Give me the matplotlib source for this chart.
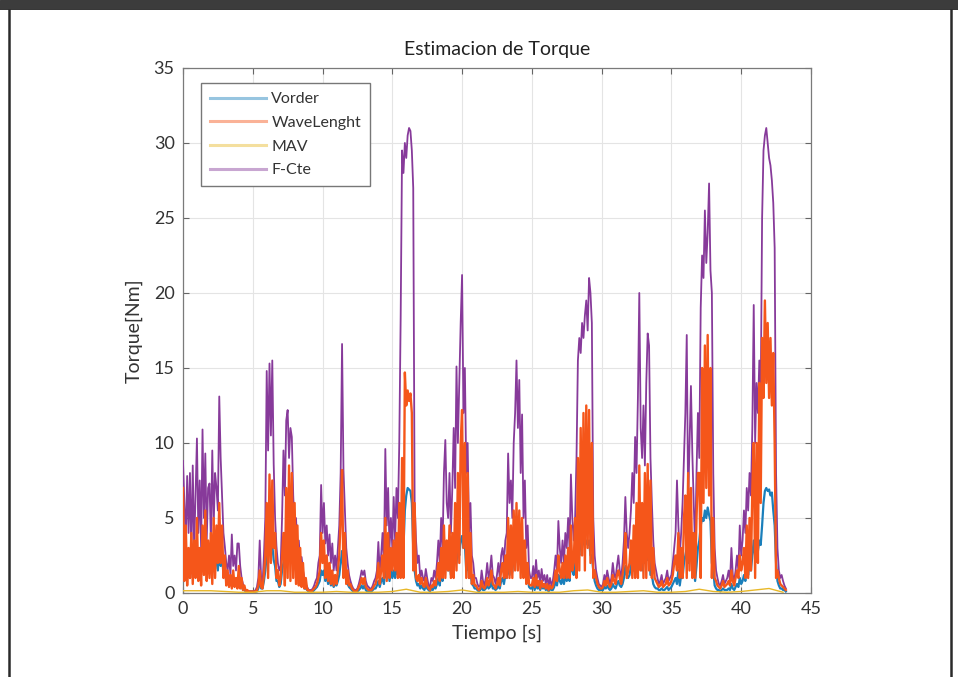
import numpy as np
import matplotlib
matplotlib.use("Agg")
import matplotlib.pyplot as plt
from matplotlib.lines import Line2D

# %% Data (samples every 0.1 s, one row per second)
dt = 0.1

f_cte = [
    8.8, 6.0, 3.5, 7.8, 4.0, 8.0, 2.5, 8.5, 3.0, 6.5,
    10.3, 4.0, 7.5, 3.0, 10.9, 5.0, 9.3, 3.5, 7.0, 7.3,
    3.5, 9.5, 4.5, 8.0, 7.0, 5.5, 13.1, 9.0, 6.4, 4.0,
    3.1, 2.0, 1.5, 2.5, 1.2, 3.9, 1.8, 2.5, 1.5, 3.3,
    3.3, 1.8, 1.0, 0.6, 0.3, 0.2, 0.1, 0.1, 0.1, 0.1,
    0.1, 0.1, 0.2, 0.4, 1.0, 3.5, 1.0, 0.6, 2.5, 5.0,
    14.8, 9.5, 15.3, 10.5, 15.5, 8.6, 5.0, 3.1, 2.0, 1.5,
    1.8, 5.0, 9.5, 6.5, 11.5, 12.2, 9.0, 11.0, 10.4, 6.5,
    4.2, 5.0, 3.0, 3.5, 2.0, 2.4, 1.5, 1.0, 0.6, 0.4,
    0.2, 0.2, 0.2, 0.3, 0.5, 0.8, 1.0, 2.0, 2.5, 7.2,
    4.0, 6.0, 3.3, 4.5, 2.5, 3.9, 2.0, 3.3, 1.5, 2.5,
    1.5, 3.0, 4.5, 8.0, 16.6, 8.2, 5.5, 3.0, 2.0, 1.2,
    0.8, 0.5, 0.3, 0.2, 0.2, 0.3, 0.6, 1.0, 1.5, 1.2,
    1.5, 0.8, 0.5, 0.4, 0.3, 0.3, 0.5, 0.8, 1.0, 1.5,
    3.4, 1.5, 2.5, 4.0, 2.0, 9.6, 4.5, 7.0, 3.0, 5.0,
    3.0, 6.4, 3.5, 7.0, 5.0, 10.0, 18.4, 29.5, 28.0, 30.0,
    29.0, 30.5, 31.0, 30.8, 29.5, 27.0, 6.0, 3.5, 2.0, 2.5,
    1.0, 1.5, 1.0, 0.8, 1.6, 1.0, 0.5, 0.4, 1.0, 0.8,
    1.5, 1.0, 2.0, 3.5, 2.0, 5.0, 3.0, 8.0, 10.2, 6.0,
    5.0, 8.0, 4.0, 7.0, 11.0, 7.0, 15.1, 10.0, 14.0, 18.0,
    21.2, 12.0, 15.0, 8.0, 10.0, 4.0, 6.0, 2.5, 2.0, 1.0,
    1.0, 0.6, 0.4, 0.5, 1.5, 0.8, 0.5, 1.0, 2.0, 1.0,
    1.5, 2.5, 1.2, 1.0, 0.6, 1.2, 2.0, 1.0, 2.5, 3.0,
    2.0, 3.5, 4.0, 9.3, 6.0, 7.5, 5.0, 10.0, 12.0, 15.5,
    11.0, 14.2, 8.0, 11.9, 5.0, 7.5, 3.0, 4.5, 1.5, 1.0,
    1.0, 1.8, 0.8, 2.2, 1.0, 1.5, 0.6, 1.6, 0.8, 1.2,
    0.6, 1.2, 0.4, 1.0, 0.5, 0.8, 1.5, 2.5, 1.5, 4.8,
    3.0, 2.0, 3.5, 2.0, 4.0, 3.0, 5.0, 3.0, 7.9, 5.0,
    3.5, 5.0, 9.0, 15.5, 17.0, 16.0, 18.0, 17.0, 18.5, 19.5,
    17.5, 21.0, 20.0, 18.0, 5.0, 2.5, 1.5, 1.0, 0.6, 0.5,
    0.4, 0.6, 1.2, 0.8, 1.5, 1.0, 0.6, 1.0, 2.0, 1.2,
    1.0, 1.8, 2.5, 1.5, 1.0, 2.0, 3.5, 6.4, 4.0, 3.0,
    4.0, 5.5, 8.0, 6.0, 10.4, 8.0, 13.0, 20.0, 11.0, 9.0,
    12.5, 8.5, 14.0, 17.3, 16.5, 9.0, 6.0, 3.5, 2.0, 1.5,
    1.0, 0.6, 0.8, 1.2, 0.6, 0.8, 1.0, 1.5, 0.8, 1.0,
    1.2, 2.0, 3.0, 4.0, 7.5, 4.5, 2.5, 4.0, 6.0, 9.0,
    12.0, 17.2, 6.0, 10.0, 13.8, 9.3, 6.0, 3.0, 8.0, 12.0,
    9.0, 19.0, 22.5, 21.0, 25.5, 22.0, 24.0, 27.3, 21.5, 20.0,
    8.0, 3.0, 1.5, 1.0, 0.6, 0.5, 0.8, 1.2, 0.6, 0.8,
    1.0, 1.5, 0.8, 3.0, 1.2, 0.8, 1.5, 2.5, 1.5, 4.5,
    2.5, 3.5, 5.5, 4.0, 7.0, 5.5, 8.0, 6.5, 11.0, 19.2,
    10.0, 14.0, 12.0, 15.5, 13.0, 25.0, 29.5, 30.5, 31.0, 30.0,
    29.0, 28.5, 27.5, 26.0, 23.0, 8.0, 3.0, 1.5, 1.0, 1.2,
    0.8, 0.5, 0.3,
]

wave_lenght = [
    7.0, 0.8, 4.5, 0.5, 3.0, 1.0, 4.0, 0.6, 3.5, 1.0,
    5.0, 0.8, 3.0, 0.5, 4.5, 1.2, 5.5, 0.8, 3.5, 1.0,
    4.0, 0.6, 5.0, 1.0, 4.5, 2.0, 6.0, 2.0, 4.5, 1.0,
    2.5, 0.5, 1.5, 0.4, 1.2, 0.3, 1.5, 0.4, 1.0, 0.3,
    1.8, 0.3, 1.0, 0.2, 0.5, 0.1, 0.2, 0.1, 0.1, 0.1,
    0.1, 0.1, 0.1, 0.2, 0.5, 1.5, 0.4, 0.3, 1.2, 2.5,
    6.0, 1.0, 7.9, 2.0, 7.5, 3.0, 4.0, 1.0, 1.5, 0.5,
    1.0, 2.5, 4.0, 0.5, 7.0, 1.0, 8.5, 0.8, 8.0, 1.0,
    6.0, 0.6, 4.5, 0.5, 3.0, 0.4, 2.0, 0.3, 1.0, 0.2,
    0.2, 0.1, 0.1, 0.2, 0.3, 0.4, 0.6, 1.0, 1.5, 4.0,
    2.0, 3.5, 1.0, 2.5, 0.8, 2.0, 0.6, 1.5, 0.5, 1.2,
    0.6, 1.5, 2.5, 5.0, 8.2, 1.0, 4.0, 0.6, 1.5, 0.5,
    0.6, 0.3, 0.2, 0.1, 0.1, 0.2, 0.4, 0.6, 1.0, 0.6,
    1.0, 0.4, 0.3, 0.2, 0.2, 0.2, 0.3, 0.5, 0.6, 1.0,
    2.0, 0.6, 1.5, 2.5, 1.0, 5.0, 0.8, 4.0, 1.0, 3.0,
    1.5, 3.5, 1.5, 4.0, 1.0, 6.0, 1.0, 9.0, 1.0, 14.7,
    12.5, 13.5, 12.8, 13.3, 12.0, 1.5, 6.0, 1.0, 0.8, 1.2,
    0.6, 1.0, 0.5, 0.4, 1.0, 0.5, 0.3, 0.2, 0.5, 0.4,
    0.8, 0.5, 1.2, 2.0, 0.8, 3.0, 1.0, 4.5, 1.0, 3.5,
    1.5, 4.5, 1.0, 4.0, 1.0, 6.0, 1.5, 8.0, 2.0, 10.0,
    12.2, 3.0, 10.0, 1.0, 8.0, 1.0, 4.0, 0.6, 1.2, 0.5,
    0.5, 0.3, 0.2, 0.3, 0.8, 0.4, 0.3, 0.5, 1.0, 0.5,
    0.8, 1.5, 0.6, 0.5, 0.3, 0.6, 1.0, 0.5, 1.5, 2.0,
    1.0, 2.5, 1.0, 5.0, 1.0, 4.5, 1.0, 5.5, 1.5, 6.0,
    1.5, 5.5, 1.0, 5.0, 1.0, 3.5, 0.6, 2.0, 0.6, 0.5,
    0.5, 1.0, 0.4, 1.2, 0.5, 0.8, 0.3, 0.8, 0.4, 0.6,
    0.3, 0.6, 0.2, 0.5, 0.3, 0.4, 0.8, 1.5, 0.8, 2.5,
    1.5, 1.0, 2.0, 1.0, 2.5, 1.0, 3.0, 1.0, 4.5, 1.5,
    2.0, 5.0, 1.0, 9.0, 1.5, 11.0, 2.5, 12.0, 1.5, 12.5,
    3.0, 12.2, 2.0, 10.0, 1.0, 1.5, 1.0, 0.6, 0.4, 0.3,
    0.3, 0.4, 0.8, 0.5, 1.0, 0.6, 0.4, 0.6, 1.2, 0.8,
    0.6, 1.2, 1.5, 1.0, 0.6, 1.2, 2.0, 4.0, 1.0, 1.5,
    2.0, 3.5, 1.0, 4.5, 1.0, 6.0, 1.0, 8.5, 1.5, 6.0,
    1.0, 8.0, 1.0, 8.6, 1.5, 7.5, 1.0, 3.0, 1.0, 0.8,
    0.6, 0.4, 0.5, 0.8, 0.4, 0.5, 0.6, 1.0, 0.5, 0.6,
    0.8, 1.2, 2.0, 2.5, 1.5, 4.0, 1.0, 3.0, 1.0, 5.0,
    6.5, 1.0, 8.0, 1.5, 7.0, 1.0, 4.0, 1.0, 5.0, 8.0,
    8.0, 1.0, 15.0, 6.0, 16.5, 7.0, 17.2, 6.5, 15.0, 1.0,
    5.0, 1.0, 0.8, 0.5, 0.4, 0.3, 0.5, 0.8, 0.4, 0.5,
    0.6, 0.8, 0.5, 1.5, 0.8, 0.5, 1.0, 1.5, 1.0, 2.5,
    1.5, 2.0, 3.0, 1.0, 4.5, 1.0, 5.0, 1.5, 7.0, 10.0,
    1.0, 10.0, 2.0, 14.0, 6.0, 17.0, 13.0, 19.5, 14.0, 18.0,
    13.0, 17.0, 12.5, 16.0, 10.0, 1.0, 1.5, 1.0, 0.6, 0.5,
    0.4, 0.3, 0.2,
]

vorder = [
    3.0, 1.5, 2.0, 1.2, 1.8, 1.0, 2.2, 1.3, 2.0, 1.5,
    2.0, 1.2, 2.5, 1.4, 2.2, 1.5, 2.6, 1.6, 2.4, 1.4,
    2.3, 1.5, 2.8, 1.6, 3.0, 1.5, 3.2, 1.8, 2.5, 1.2,
    1.5, 0.8, 1.0, 0.6, 0.8, 0.5, 0.9, 0.5, 0.7, 0.4,
    0.8, 0.4, 0.5, 0.2, 0.2, 0.1, 0.1, 0.1, 0.1, 0.1,
    0.1, 0.1, 0.1, 0.1, 0.3, 0.8, 0.3, 0.3, 0.8, 1.5,
    2.5, 3.0, 3.3, 3.0, 3.2, 2.2, 1.8, 0.8, 0.8, 0.4,
    0.6, 1.5, 2.0, 2.5, 3.0, 3.2, 3.0, 3.0, 2.8, 2.0,
    2.0, 1.5, 1.5, 0.8, 1.0, 0.5, 0.6, 0.3, 0.3, 0.2,
    0.1, 0.1, 0.1, 0.1, 0.2, 0.3, 0.4, 0.6, 0.8, 1.5,
    1.2, 1.5, 0.8, 1.2, 0.6, 1.0, 0.5, 0.8, 0.4, 0.6,
    0.5, 0.8, 1.2, 2.0, 2.8, 1.5, 1.5, 0.8, 0.6, 0.4,
    0.3, 0.2, 0.1, 0.1, 0.1, 0.1, 0.2, 0.3, 0.5, 0.3,
    0.5, 0.2, 0.1, 0.1, 0.1, 0.1, 0.2, 0.3, 0.3, 0.5,
    0.8, 0.4, 0.8, 1.0, 0.6, 1.8, 1.0, 1.8, 0.8, 1.5,
    1.0, 1.5, 1.0, 1.8, 1.2, 2.5, 1.8, 3.5, 3.0, 5.5,
    6.5, 7.0, 6.9, 6.8, 6.0, 3.0, 1.5, 0.8, 0.5, 0.6,
    0.3, 0.5, 0.3, 0.2, 0.5, 0.3, 0.2, 0.1, 0.3, 0.2,
    0.4, 0.3, 0.6, 1.0, 0.5, 1.5, 0.8, 2.0, 1.5, 2.0,
    1.5, 2.0, 1.2, 2.2, 1.5, 2.8, 2.0, 3.0, 2.5, 3.5,
    3.8, 3.0, 3.2, 1.5, 2.2, 1.0, 1.5, 0.6, 0.5, 0.3,
    0.3, 0.2, 0.1, 0.2, 0.4, 0.2, 0.2, 0.3, 0.5, 0.3,
    0.4, 0.8, 0.3, 0.3, 0.2, 0.3, 0.5, 0.3, 0.8, 1.0,
    0.6, 1.2, 1.0, 2.0, 1.2, 2.2, 1.4, 2.5, 2.0, 3.0,
    3.2, 3.5, 2.8, 3.0, 2.0, 2.2, 1.0, 1.0, 0.4, 0.3,
    0.3, 0.6, 0.2, 0.6, 0.3, 0.4, 0.2, 0.5, 0.3, 0.4,
    0.2, 0.3, 0.1, 0.3, 0.2, 0.2, 0.4, 0.8, 0.5, 1.2,
    0.8, 0.6, 1.0, 0.6, 1.2, 0.8, 1.5, 0.8, 2.0, 1.5,
    1.2, 2.0, 1.8, 3.0, 2.5, 3.5, 3.0, 3.6, 3.2, 3.5,
    3.2, 3.5, 2.5, 2.5, 1.5, 0.8, 0.5, 0.3, 0.2, 0.2,
    0.2, 0.2, 0.4, 0.3, 0.5, 0.3, 0.2, 0.3, 0.6, 0.4,
    0.3, 0.6, 0.8, 0.5, 0.4, 0.6, 1.0, 1.8, 1.2, 1.0,
    1.2, 1.8, 2.2, 1.5, 2.8, 1.8, 3.2, 2.0, 2.5, 1.5,
    3.0, 2.0, 3.5, 2.2, 3.0, 1.2, 1.2, 0.6, 0.4, 0.3,
    0.3, 0.2, 0.2, 0.3, 0.2, 0.2, 0.3, 0.4, 0.2, 0.3,
    0.4, 0.6, 0.8, 1.0, 0.6, 1.5, 0.5, 1.2, 1.0, 2.0,
    2.5, 3.0, 2.0, 2.5, 2.8, 2.0, 1.5, 0.8, 1.8, 3.0,
    3.5, 4.5, 5.0, 4.8, 5.5, 5.0, 5.7, 5.2, 4.8, 2.0,
    1.5, 0.5, 0.3, 0.2, 0.2, 0.1, 0.2, 0.3, 0.2, 0.2,
    0.2, 0.3, 0.2, 0.6, 0.3, 0.2, 0.4, 0.6, 0.4, 1.0,
    0.6, 0.8, 1.2, 0.8, 1.6, 1.2, 2.0, 1.5, 2.5, 3.5,
    2.5, 3.0, 2.8, 3.5, 3.2, 4.5, 6.0, 6.8, 7.0, 6.8,
    6.9, 6.5, 6.7, 5.5, 4.5, 2.0, 0.8, 0.5, 0.3, 0.3,
    0.2, 0.2, 0.1,
]

# MAV sampled every second
mav = [0.15, 0.15, 0.15, 0.1, 0.05, 0.05, 0.15, 0.15, 0.05, 0.05, 0.05,
       0.1, 0.05, 0.05, 0.05, 0.1, 0.25, 0.05, 0.05, 0.1, 0.2, 0.05, 0.05,
       0.05, 0.1, 0.05, 0.05, 0.05, 0.15, 0.2, 0.05, 0.05, 0.1, 0.15, 0.05,
       0.05, 0.1, 0.25, 0.1, 0.05, 0.1, 0.2, 0.3, 0.05]

labels = ['Vorder', 'WaveLenght', 'MAV', 'F-Cte']
colors = ['#1a7fbb', '#f5561a', '#e8b828', '#873a9a']
x_ticks = np.arange(0, 46, 5)
y_ticks = np.arange(0, 36, 5)

# %% Plot
plt.rcParams['font.family'] = ['Lato', 'DejaVu Sans']
text_col = '#333333'

fig = plt.figure(figsize=(9.58, 6.77), dpi=100)
ax = fig.add_axes([0.191, 0.1241, 0.6555, 0.7755])

t = np.arange(len(f_cte)) * dt
ax.plot(np.arange(len(vorder)) * dt, vorder, color=colors[0], lw=1.6, zorder=2)
ax.plot(t, f_cte, color=colors[3], lw=1.3, zorder=3)
ax.plot(np.arange(len(wave_lenght)) * dt, wave_lenght, color=colors[1], lw=1.7, zorder=4)
ax.plot(np.arange(len(mav)) * 1.0, mav, color=colors[2], lw=1.0, zorder=5)

ax.set_xlim(0, 45)
ax.set_ylim(0, 35)
ax.set_xticks(x_ticks)
ax.set_yticks(y_ticks)
ax.grid(True, color='#e4e4e4', lw=0.8)
ax.set_axisbelow(True)
ax.tick_params(direction='in', top=True, right=True, length=4, width=0.8,
               colors='#666666', labelcolor=text_col, labelsize=13, pad=6)
for s in ax.spines.values():
    s.set_color('#7a7a7a')
    s.set_linewidth(0.9)

ax.set_title('Estimacion de Torque', fontsize=14, color='#222222', pad=9)
ax.set_xlabel('Tiempo [s]', fontsize=14, color=text_col, labelpad=5)
ax.set_ylabel('Torque[Nm]', fontsize=14, color=text_col, labelpad=8)

handles = [Line2D([], [], color=c, lw=2.2, alpha=0.45) for c in colors]
leg = ax.legend(handles, labels, loc='upper left', bbox_to_anchor=(0.0287, 0.971),
                borderaxespad=0, fontsize=11.5, handlelength=3.5, handletextpad=0.35,
                labelspacing=0.6, borderpad=0.55, fancybox=False, framealpha=1,
                edgecolor='#777777')
for txt in leg.get_texts():
    txt.set_color(text_col)

# dark frame around the screenshot
fig.patches.append(plt.Rectangle((0, 1 - 8 / 677), 1, 8 / 677, transform=fig.transFigure,
                                 color='#3c3c3c', zorder=10))
fig.lines.append(Line2D([0, 1], [1 - 8.5 / 677] * 2, transform=fig.transFigure,
                        color='#111111', lw=1.2))
fig.lines.append(Line2D([9 / 958] * 2, [0, 1], transform=fig.transFigure,
                        color='#2a2a2a', lw=1.8))
fig.lines.append(Line2D([951 / 958] * 2, [0, 1], transform=fig.transFigure,
                        color='#2a2a2a', lw=1.8))

fig.savefig('out.png', dpi=100)
